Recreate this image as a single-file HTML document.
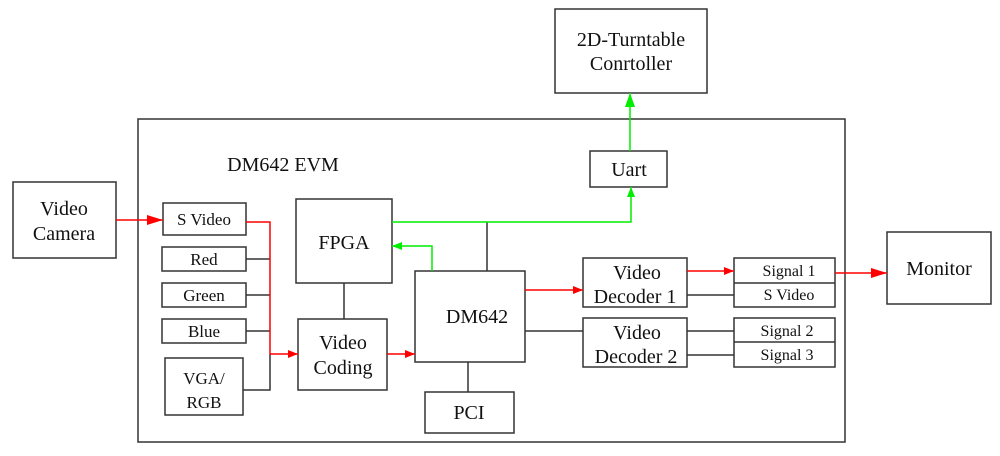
<!DOCTYPE html>
<html><head><meta charset="utf-8"><style>
html,body{margin:0;padding:0;background:#fff;}
svg{display:block;}
text{font-family:"Liberation Serif",serif;fill:#111;text-anchor:middle;}
</style></head><body>
<svg width="1000" height="456" viewBox="0 0 1000 456" xmlns="http://www.w3.org/2000/svg">
<defs>
<marker id="r" markerWidth="10" markerHeight="8" refX="10" refY="4" orient="auto" markerUnits="userSpaceOnUse"><path d="M0,0 L10,4 L0,8 z" fill="#f00"/></marker>
<marker id="rb" markerWidth="16" markerHeight="10" refX="16" refY="5" orient="auto" markerUnits="userSpaceOnUse"><path d="M0,0 L16,5 L0,10 z" fill="#f00"/></marker>
<marker id="g" markerWidth="10" markerHeight="8" refX="10" refY="4" orient="auto" markerUnits="userSpaceOnUse"><path d="M0,0 L10,4 L0,8 z" fill="#0e0"/></marker>
<marker id="gb" markerWidth="14" markerHeight="10" refX="14" refY="5" orient="auto" markerUnits="userSpaceOnUse"><path d="M0,0 L14,5 L0,10 z" fill="#0e0"/></marker>
</defs>
<g fill="none" stroke="#333" stroke-width="1.5">
<rect x="138" y="119" width="707" height="323"/>
<rect x="13" y="182" width="103" height="76"/>
<rect x="555" y="9" width="152" height="84"/>
<rect x="887" y="232" width="104" height="72"/>
<rect x="163" y="203" width="83" height="32"/>
<rect x="162" y="247" width="84" height="24"/>
<rect x="162" y="283" width="84" height="24"/>
<rect x="162" y="319" width="84" height="24"/>
<rect x="165" y="358" width="78" height="57"/>
<rect x="296" y="199" width="96" height="84"/>
<rect x="298" y="319" width="89" height="71"/>
<rect x="415" y="271" width="110" height="91"/>
<rect x="425" y="392" width="89" height="41"/>
<rect x="590" y="151" width="77" height="36"/>
<rect x="583" y="258" width="104" height="49"/>
<rect x="583" y="318" width="104" height="49"/>
<rect x="734" y="258" width="101" height="49"/>
<line x1="734" y1="283" x2="835" y2="283"/>
<rect x="734" y="318" width="101" height="49"/>
<line x1="734" y1="342" x2="835" y2="342"/>
<line x1="246" y1="259" x2="270" y2="259"/>
<line x1="246" y1="295" x2="270" y2="295"/>
<line x1="246" y1="331" x2="270" y2="331"/>
<polyline points="243,390 270,390 270,354"/>
<line x1="344" y1="283" x2="344" y2="319"/>
<line x1="487" y1="222" x2="487" y2="271"/>
<line x1="468" y1="362" x2="468" y2="392"/>
<line x1="525" y1="331" x2="583" y2="331"/>
<line x1="687" y1="295" x2="734" y2="295"/>
<line x1="687" y1="331" x2="734" y2="331"/>
<line x1="687" y1="355" x2="734" y2="355"/>
</g>
<g fill="none" stroke="#f00" stroke-width="1.5">
<line x1="116" y1="220" x2="163" y2="220" marker-end="url(#rb)"/>
<polyline points="246,222 270,222 270,354"/>
<line x1="270" y1="354" x2="298" y2="354" marker-end="url(#r)"/>
<line x1="387" y1="354" x2="415" y2="354" marker-end="url(#r)"/>
<line x1="525" y1="290" x2="583" y2="290" marker-end="url(#r)"/>
<line x1="687" y1="271" x2="734" y2="271" marker-end="url(#r)"/>
<line x1="835" y1="273" x2="887" y2="273" marker-end="url(#rb)"/>
</g>
<g fill="none" stroke="#0e0" stroke-width="1.5">
<polyline points="392,222 631,222 631,187" marker-end="url(#g)"/>
<polyline points="432,271 432,246 392,246" marker-end="url(#g)"/>
<line x1="630" y1="151" x2="630" y2="93" marker-end="url(#gb)"/>
</g>
<g font-size="20">
<text x="64" y="215">Video</text>
<text x="64" y="240">Camera</text>
<text x="631" y="46">2D-Turntable</text>
<text x="631" y="70">Conrtoller</text>
<text x="939" y="275">Monitor</text>
<text x="283" y="171">DM642 EVM</text>
<text x="344" y="249">FPGA</text>
<text x="343" y="349">Video</text>
<text x="343" y="374">Coding</text>
<text x="477" y="323">DM642</text>
<text x="469" y="419">PCI</text>
<text x="629" y="176">Uart</text>
<text x="637" y="279">Video</text>
<text x="635" y="303">Decoder 1</text>
<text x="637" y="339">Video</text>
<text x="636" y="363">Decoder 2</text>
</g>
<g font-size="17">
<text x="204" y="225">S Video</text>
<text x="204" y="265">Red</text>
<text x="204" y="301">Green</text>
<text x="204" y="337">Blue</text>
<text x="204" y="384">VGA/</text>
<text x="204" y="408">RGB</text>
</g>
<g font-size="16">
<text x="789" y="276">Signal 1</text>
<text x="789" y="300">S Video</text>
<text x="787" y="336">Signal 2</text>
<text x="787" y="360">Signal 3</text>
</g>
</svg>
</body></html>
